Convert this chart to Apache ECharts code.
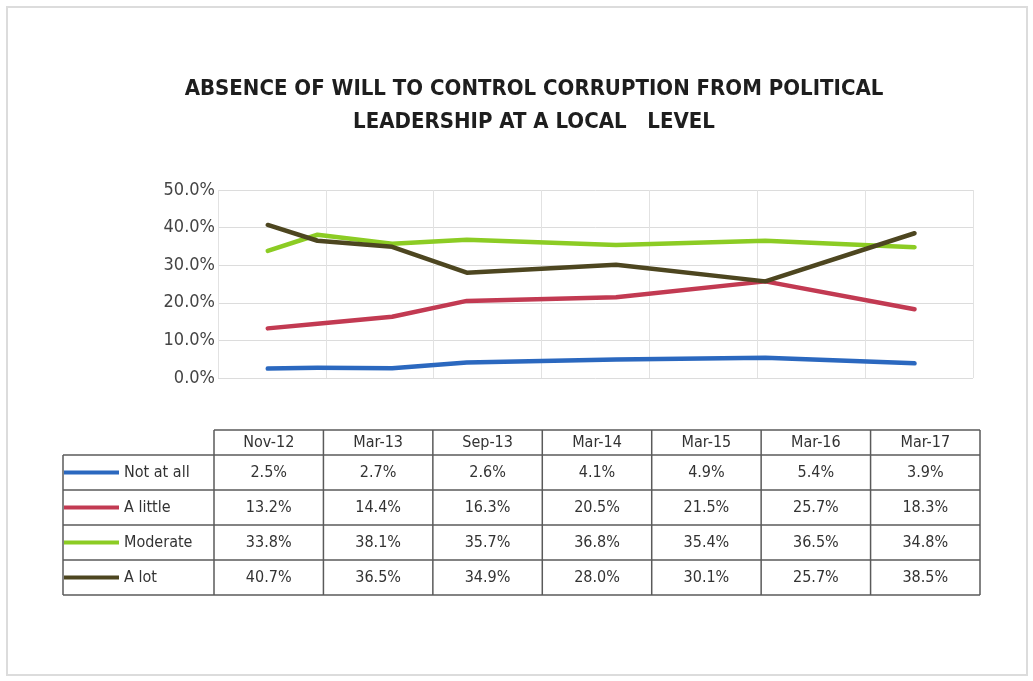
<!DOCTYPE html>
<html>
<head>
<meta charset="utf-8">
<script src="https://cdn.jsdelivr.net/npm/echarts@6/dist/echarts.min.js"></script>
<style>
html,body{margin:0;padding:0;background:#fff;}
#c{width:1033px;height:681px;}
</style>
</head>
<body>
<div id="c"></div>
<script>
// ---- data ----
var categories = ['Nov-12', 'Mar-13', 'Sep-13', 'Mar-14', 'Mar-15', 'Mar-16', 'Mar-17'];
var monthIndex = [0, 4, 10, 16, 28, 40, 52]; // months since Nov-2012
var seriesNames = ['Not at all', 'A little', 'Moderate', 'A lot'];
var notAtAll = [2.5, 2.7, 2.6, 4.1, 4.9, 5.4, 3.9];
var aLittle = [13.2, 14.4, 16.3, 20.5, 21.5, 25.7, 18.3];
var moderate = [33.8, 38.1, 35.7, 36.8, 35.4, 36.5, 34.8];
var aLot = [40.7, 36.5, 34.9, 28.0, 30.1, 25.7, 38.5];
var yTicks = [0, 10, 20, 30, 40, 50];

var seriesValues = [notAtAll, aLittle, moderate, aLot];
var colors = ['#2b68bf', '#c23a52', '#8ccc24', '#4d4620'];
var FONT = "'Liberation Sans Narrow', 'DejaVu Sans Condensed', 'Roboto', sans-serif";

// ---- table layout ----
var tblLeft = 63, colStart = 214, colEnd = 980, headTop = 430, rowTop = 455, rowH = 35;
var colW = (colEnd - colStart) / categories.length;
var lineColor = '#5a5a5a';
var graphics = [];
// page frame
graphics.push({type: 'rect', shape: {x: 7, y: 7, width: 1020, height: 668}, style: {fill: 'none', stroke: '#dcdcdc', lineWidth: 2}, silent: true});
function hline(x1, x2, y) { graphics.push({type: 'line', shape: {x1: x1, y1: y, x2: x2, y2: y}, style: {stroke: lineColor, lineWidth: 1.5}, silent: true}); }
function vline(x, y1, y2) { graphics.push({type: 'line', shape: {x1: x, y1: y1, x2: x, y2: y2}, style: {stroke: lineColor, lineWidth: 1.5}, silent: true}); }
var tblBottom = rowTop + rowH * seriesNames.length;
hline(colStart, colEnd, headTop);
for (var r = 0; r <= seriesNames.length; r++) hline(tblLeft, colEnd, rowTop + r * rowH);
vline(tblLeft, rowTop, tblBottom);
for (var c = 0; c <= categories.length; c++) vline(colStart + c * colW, headTop, tblBottom);
function txt(s, x, y) {
  graphics.push({type: 'text', x: x, y: y, style: {text: s, font: '16px ' + FONT, fill: '#333', align: 'center', verticalAlign: 'middle'}, silent: true});
}
categories.forEach(function (cat, i) { txt(cat, colStart + (i + 0.5) * colW, (headTop + rowTop) / 2); });
seriesValues.forEach(function (vals, r) {
  vals.forEach(function (v, i) { txt(v.toFixed(1) + '%', colStart + (i + 0.5) * colW, rowTop + (r + 0.5) * rowH); });
});

var chart = echarts.init(document.getElementById('c'), null, {renderer: 'canvas'});
chart.setOption({
  animation: false,
  backgroundColor: '#fff',
  title: {
    text: 'ABSENCE OF WILL TO CONTROL CORRUPTION FROM POLITICAL\nLEADERSHIP AT A LOCAL   LEVEL',
    left: 529, top: 68, textAlign: 'center',
    textStyle: {fontFamily: FONT, fontWeight: 'bold', fontSize: 22, color: '#1e1e1e', lineHeight: 33}
  },
  legend: {
    orient: 'vertical', left: 64, top: 462.5, padding: 0,
    itemWidth: 55, itemHeight: 4, itemGap: 15, icon: 'rect',
    data: seriesNames,
    textStyle: {fontFamily: FONT, fontSize: 16, color: '#333', lineHeight: 20},
    selectedMode: false
  },
  grid: {left: 218, right: 60, top: 190, height: 188, containLabel: false},
  xAxis: [
    {type: 'value', min: -4.0, max: 56.7, show: false, splitLine: {show: false}},
    {type: 'category', data: categories, boundaryGap: true, position: 'bottom',
     axisLine: {show: false}, axisTick: {show: false}, axisLabel: {show: false},
     splitLine: {show: true, lineStyle: {color: '#e2e2e2', width: 1}}}
  ],
  yAxis: {
    type: 'value', min: yTicks[0], max: yTicks[yTicks.length - 1], interval: 10,
    axisLine: {show: false}, axisTick: {show: false},
    axisLabel: {margin: 3, fontFamily: FONT, fontSize: 18, color: '#444', formatter: function (v) { return v.toFixed(1) + '%'; }},
    splitLine: {lineStyle: {color: '#dcdcdc', width: 1}}
  },
  graphic: graphics,
  series: seriesNames.map(function (name, k) {
    return {
      name: name, type: 'line', xAxisIndex: 0,
      data: seriesValues[k].map(function (v, i) { return [monthIndex[i], v]; }),
      showSymbol: false, symbol: 'none',
      lineStyle: {color: colors[k], width: 4.5, cap: 'round', join: 'round'},
      itemStyle: {color: colors[k]},
      z: 2 + k
    };
  })
});
</script>
</body>
</html>
